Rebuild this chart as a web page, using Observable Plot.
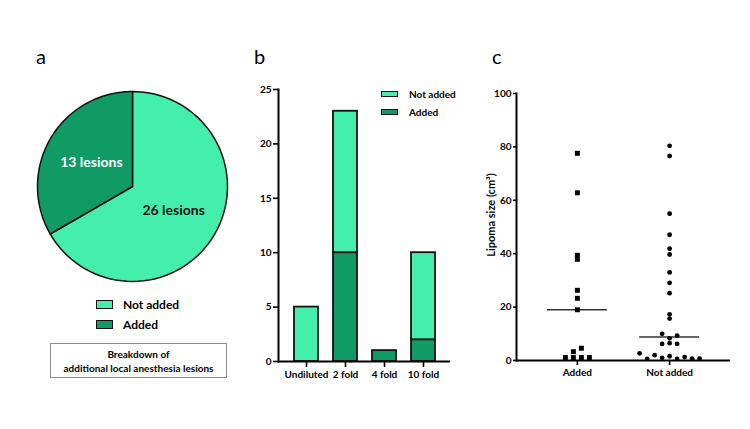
<!DOCTYPE html>
<html>
<head>
<meta charset="utf-8">
<script src="https://cdn.jsdelivr.net/npm/d3@7"></script>
<script src="https://cdn.jsdelivr.net/npm/@observablehq/plot@0.6"></script>
<style>
  body { margin: 0; background: #fff; font-family: Lato, "Open Sans", sans-serif; color: #000; }
  #fig { position: relative; width: 750px; height: 429px; overflow: hidden; background: #fff; }
  #fig > * { position: absolute; }
  .letter { font-size: 20px; line-height: 1; }
  .legend-row { display: flex; align-items: center; font-weight: 700; white-space: nowrap; }
  .legend-row .sw { box-sizing: border-box; border: 1.6px solid #111; }
  .note { box-sizing: border-box; border: 1px solid #8a8a8a; font-size: 10px; font-weight: 700;
          text-align: center; line-height: 14px; padding-top: 3px; }
  .ylabel { font-size: 11px; font-weight: 700; white-space: nowrap;
            transform: translate(-50%, -50%) rotate(-90deg); }
</style>
</head>
<body>
<div id="fig"></div>
<script>
// ---- data ----
const statusLabels = ["Not added", "Added"];
const lesionCounts = [26, 13];

const dilutions = ["Undiluted", "2 fold", "4 fold", "10 fold"];
const addedByDilution = [0, 10, 1, 2];
const notAddedByDilution = [5, 13, 0, 8];

const sizeGroups = ["Added", "Not added"];
// lipoma sizes (cm³), listed top to bottom, left to right within a row
const sizeAdded = [77.6, 62.8, 39.4, 37.9, 26.3, 23.3, 19.0, 3.3, 4.6, 1.1, 1.1, 1.1, 1.1];
const sizeNotAdded = [80.4, 76.6, 55.0, 47.1, 41.9, 39.7, 33.0, 29.1, 25.2, 17.3, 15.7,
                      10.0, 8.3, 9.3, 6.2, 6.5, 6.2,
                      2.7, 0.6, 2.0, 1.0, 1.6, 0.6, 1.3, 0.7, 0.7];

// ---- styling ----
const LIGHT = "#44efae";
const DARK = "#0f9a66";
const FONT = "Lato, 'Open Sans', sans-serif";
const fig = document.getElementById("fig");

function place(el, left, top) {
  el.style.left = left + "px";
  el.style.top = top + "px";
  fig.appendChild(el);
  return el;
}
function html(tag, cls, content) {
  const el = document.createElement(tag);
  if (cls) el.className = cls;
  if (content != null) el.innerHTML = content;
  return el;
}
function legendRow(label, color, swW, swH, fontSize, gap) {
  const row = html("div", "legend-row");
  row.style.fontSize = fontSize + "px";
  const sw = html("span", "sw");
  sw.style.width = swW + "px";
  sw.style.height = swH + "px";
  sw.style.background = color;
  sw.style.marginRight = gap + "px";
  row.appendChild(sw);
  row.appendChild(document.createTextNode(label));
  return row;
}
const colorScale = {domain: statusLabels, range: [LIGHT, DARK]};

// ---- panel a: pie of lesions ----
const arcs = d3.pie().sort(null).value(d => d.count)(
  statusLabels.map((label, i) => ({label, count: lesionCounts[i]}))
);
const slicePoints = arcs.flatMap(a => {
  const steps = 72;
  const pts = [{label: a.data.label, x: 0, y: 0}];
  for (let k = 0; k <= steps; ++k) {
    const t = a.startAngle + (a.endAngle - a.startAngle) * k / steps;
    pts.push({label: a.data.label, x: Math.sin(t), y: Math.cos(t)});
  }
  pts.push({label: a.data.label, x: 0, y: 0});
  return pts;
});
const sliceLabels = arcs.map(a => {
  const mid = (a.startAngle + a.endAngle) / 2;
  return {label: a.data.label, x: 0.5 * Math.sin(mid), y: 0.5 * Math.cos(mid), text: `${a.data.count} lesions`};
});

const pie = Plot.plot({
  width: 194, height: 194, margin: 2,
  style: {fontFamily: FONT, background: "transparent", overflow: "visible"},
  x: {domain: [-1, 1], axis: null},
  y: {domain: [-1, 1], axis: null},
  color: colorScale,
  marks: [
    Plot.line(slicePoints, {x: "x", y: "y", z: "label", fill: "label", stroke: "#111",
                            strokeWidth: 1.5, strokeLinejoin: "round"}),
    Plot.text(sliceLabels.filter(d => d.label === "Not added"),
              {x: "x", y: "y", text: "text", fill: "#111", fontSize: 14, fontWeight: 700}),
    Plot.text(sliceLabels.filter(d => d.label === "Added"),
              {x: "x", y: "y", text: "text", fill: "#fff", fontSize: 14, fontWeight: 700})
  ]
});
place(pie, 35, 89);

place(html("div", "letter", "a"), 36, 46);
place(legendRow(statusLabels[0], LIGHT, 17, 9, 12, 10), 96, 297);
place(legendRow(statusLabels[1], DARK, 17, 9, 12, 10), 96, 317);
const note = html("div", "note", "Breakdown of<br>additional local anesthesia lesions");
note.style.width = "177px";
note.style.height = "35px";
place(note, 50, 343);

// ---- panel b: stacked bars by dilution ----
const barRows = dilutions.flatMap((d, i) => [
  {dilution: d, status: "Added", count: addedByDilution[i]},
  {dilution: d, status: "Not added", count: notAddedByDilution[i]}
]).filter(r => r.count > 0);

const bars = Plot.plot({
  width: 240, height: 310,
  marginLeft: 48, marginRight: 20, marginTop: 14, marginBottom: 24,
  style: {fontFamily: FONT, fontSize: "10px", fontWeight: 700, color: "#000",
          background: "transparent", overflow: "visible"},
  x: {domain: dilutions, paddingInner: 0.385, paddingOuter: 0.38, label: null},
  y: {domain: [0, 25], ticks: [0, 5, 10, 15, 20, 25], label: null},
  color: colorScale,
  marks: [
    Plot.barY(barRows, {x: "dilution", y: "count", fill: "status", stroke: "#111",
                        strokeWidth: 1.8, order: ["Added", "Not added"]}),
    Plot.axisY({ticks: [0, 5, 10, 15, 20, 25], tickSize: 5, tickPadding: 2, strokeWidth: 1.6}),
    Plot.axisX({tickSize: 6, tickPadding: 3, strokeWidth: 1.6}),
    Plot.ruleY([0], {strokeWidth: 2}),
    Plot.frame({anchor: "left", strokeWidth: 2})
  ]
});
place(bars, 230, 75);

place(html("div", "letter", "b"), 254, 46);
place(legendRow(statusLabels[0], LIGHT, 17, 6, 10, 11), 381, 88);
place(legendRow(statusLabels[1], DARK, 17, 6, 10, 11), 381, 106);

// ---- panel c: lipoma size scatter with medians ----
const cW = 270, cML = 46, cMR = 10;
const xDomain = [-0.66, 1.66];
const pxPerUnit = (cW - cML - cMR) / (xDomain[1] - xDomain[0]);

// values that sit close together share a row and are spread sideways
function spreadRows(values, gap, spacingPx) {
  const sorted = values.map((v, i) => ({v, i})).sort((a, b) => a.v - b.v);
  const rows = [];
  let cur = [];
  for (const p of sorted) {
    if (cur.length && p.v - cur[cur.length - 1].v > gap) { rows.push(cur); cur = []; }
    cur.push(p);
  }
  if (cur.length) rows.push(cur);
  return rows.flatMap(row => row.sort((a, b) => a.i - b.i)
    .map((p, k) => ({value: p.v, offset: (k - (row.length - 1) / 2) * spacingPx / pxPerUnit})));
}
const addedPts = spreadRows(sizeAdded, 1.4, 8).map(d => ({...d, x: 0 + d.offset}));
const notAddedPts = spreadRows(sizeNotAdded, 1.4, 7.5).map(d => ({...d, x: 1 + d.offset}));
const medians = [sizeAdded, sizeNotAdded].map((vals, i) => ({i, m: d3.median(vals)}));

const scatter = Plot.plot({
  width: cW, height: 310,
  marginLeft: cML, marginRight: cMR, marginTop: 13, marginBottom: 30,
  style: {fontFamily: FONT, fontSize: "10px", fontWeight: 700, color: "#000",
          background: "transparent", overflow: "visible"},
  x: {domain: xDomain, label: null},
  y: {domain: [0, 100], label: null},
  marks: [
    Plot.ruleY(medians, {y: "m", x1: d => d.i - 0.325, x2: d => d.i + 0.325,
                         stroke: "#333", strokeWidth: 1.5}),
    Plot.dot(addedPts, {x: "x", y: "value", symbol: "square", r: 2.8, fill: "#000", stroke: "none"}),
    Plot.dot(notAddedPts, {x: "x", y: "value", symbol: "circle", r: 2.4, fill: "#000", stroke: "none"}),
    Plot.axisY({ticks: [0, 20, 40, 60, 80, 100], tickSize: 3, tickPadding: 2, strokeWidth: 1.6, label: null}),
    Plot.axisX({ticks: [0, 1], tickFormat: i => sizeGroups[i], tickSize: 5, tickPadding: 3, strokeWidth: 1.6}),
    Plot.ruleY([0], {strokeWidth: 2}),
    Plot.frame({anchor: "left", strokeWidth: 2})
  ]
});
place(scatter, 470, 80);

place(html("div", "ylabel", "Lipoma size (cm³)"), 490, 215);
place(html("div", "letter", "c"), 492, 46);
</script>
</body>
</html>
